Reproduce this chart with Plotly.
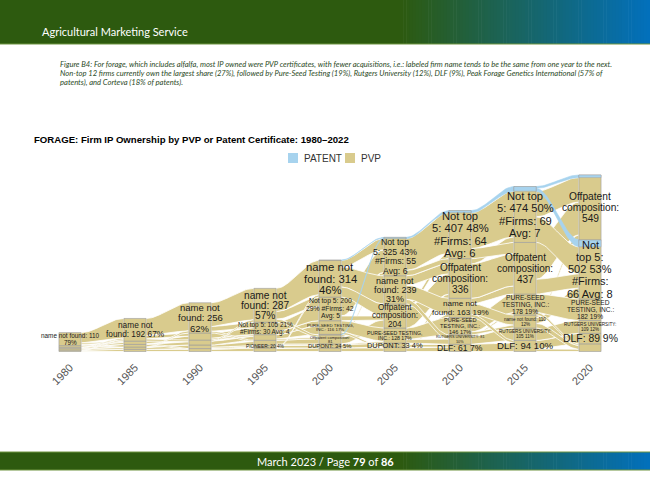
import plotly.graph_objects as go

# ---------------- DATA ----------------
years = [1980, 1985, 1990, 1995, 2000, 2005, 2010, 2015, 2020]
year_labels = ["1980", "1985", "1990", "1995", "2000", "2005", "2010", "2015", "2020"]

# strata, bottom -> top : keys, counts, patent part of count, label text
keys_1980 = ["o1", "o2", "o3", "o4", "nnf"]
vals_1980 = [12, 12, 12, 14, 110]
pats_1980 = [0, 0, 0, 0, 0]
labs_1980 = ["", "", "", "", "name not found: 110<br>79%"]

keys_1985 = ["o1", "o2", "o3", "o4", "nnf"]
vals_1985 = [18, 20, 22, 28, 192]
pats_1985 = [0, 0, 0, 0, 0]
labs_1985 = ["", "", "", "", "name not<br>found: 192 67%"]

keys_1990 = ["o1", "o2", "o3", "o4", "nnf"]
vals_1990 = [25, 30, 42, 60, 256]
pats_1990 = [0, 0, 0, 0, 0]
labs_1990 = ["", "", "", "", "name not<br>found: 256<br>62%"]

keys_1995 = ["o1", "pio", "o2", "o3", "nt5", "nnf"]
vals_1995 = [30, 20, 45, 48, 105, 287]
pats_1995 = [0, 0, 0, 0, 0, 0]
labs_1995 = ["", "PIONEER: 20 4%", "", "", "Not top 5: 105 21%<br>#Firms: 30 Avg: 4",
             "name not<br>found: 287<br>57%"]

keys_2000 = ["o1", "dup", "off", "pure", "nt5", "nnf"]
vals_2000 = [30, 34, 81, 116, 200, 314]
pats_2000 = [0, 0, 6, 0, 0, 3]
labs_2000 = ["", "DUPONT: 34 5%", "Offpatent composition:<br>81",
             "PURE-SEED TESTING,<br>INC.: 116 17%", "Not top 5: 200<br>29% #Firms: 42<br>Avg: 5",
             "name not<br>found: 314<br>46%"]

keys_2005 = ["o1", "dup", "pure", "off", "nnf", "nt5"]
vals_2005 = [38, 33, 128, 204, 239, 325]
pats_2005 = [0, 0, 0, 0, 0, 10]
labs_2005 = ["", "DUPONT: 33 4%", "PURE-SEED TESTING,<br>INC.: 128 17%",
             "Offpatent<br>composition:<br>204", "name not<br>found: 239<br>31%",
             "Not top<br>5: 325 43%<br>#Firms: 55<br>Avg: 6"]

keys_2010 = ["dlf", "rut", "pure", "nnf", "off", "nt5"]
vals_2010 = [61, 81, 146, 163, 336, 407]
pats_2010 = [0, 0, 0, 0, 0, 18]
labs_2010 = ["DLF: 61 7%", "RUTGERS UNIVERSITY: 81<br>10%", "PURE-SEED<br>TESTING, INC.:<br>146 17%",
             "name not<br>found: 163 19%", "Offpatent<br>composition:<br>336",
             "Not top<br>5: 407 48%<br>#Firms: 64<br>Avg: 6"]

keys_2015 = ["dlf", "rut", "nnf", "pure", "off", "nt5"]
vals_2015 = [94, 105, 110, 178, 437, 474]
pats_2015 = [0, 0, 0, 0, 0, 40]
labs_2015 = ["DLF: 94 10%", "RUTGERS UNIVERSITY:<br>105 11%", "name not found: 110<br>12%",
             "PURE-SEED<br>TESTING, INC.:<br>178 19%", "Offpatent<br>composition:<br>437",
             "Not top<br>5: 474 50%<br>#Firms: 69<br>Avg: 7"]

keys_2020 = ["o1", "dlf", "rut", "pure", "nt5", "off"]
vals_2020 = [65, 89, 109, 182, 502, 549]
pats_2020 = [0, 0, 0, 0, 60, 22]
labs_2020 = ["", "DLF: 89 9%", "RUTGERS UNIVERSITY:<br>109 12%", "PURE-SEED<br>TESTING, INC.:<br>182 19%",
             "Not<br>top 5:<br>502 53%<br>#Firms:<br>66 Avg: 8", "Offpatent<br>composition:<br>549"]

# flows between consecutive years: (from stratum, to stratum, relative weight)
pvp_1980_1985 = [("o1", "o1", 1), ("o2", "o2", 1), ("o3", "o3", 1), ("o4", "o4", 1), ("nnf", "nnf", 4),
                 ("nnf", "o4", 0.6), ("nnf", "o2", 0.4), ("o1", "nnf", 0.3), ("o3", "nnf", 0.3)]
pvp_1985_1990 = [("o1", "o1", 1), ("o2", "o2", 1), ("o3", "o3", 1), ("o4", "o4", 1), ("nnf", "nnf", 4),
                 ("nnf", "o4", 0.8), ("nnf", "o3", 0.5), ("o2", "nnf", 0.3), ("o4", "o1", 0.3)]
pvp_1990_1995 = [("o1", "o1", 1), ("o1", "pio", 0.4), ("o2", "pio", 0.6), ("o2", "o2", 1), ("o3", "o3", 1),
                 ("o4", "o3", 0.4), ("o4", "nt5", 1), ("nnf", "nt5", 0.8), ("nnf", "nnf", 4),
                 ("o3", "nnf", 0.3), ("nnf", "o2", 0.3)]
pvp_1995_2000 = [("o1", "o1", 1), ("pio", "dup", 1), ("o2", "dup", 0.4), ("o2", "off", 1), ("o3", "pure", 1),
                 ("o3", "off", 0.3), ("nt5", "pure", 0.6), ("nt5", "nt5", 1.5), ("nnf", "nt5", 1),
                 ("nnf", "nnf", 3), ("nnf", "off", 0.4), ("o1", "nnf", 0.2)]
pvp_2000_2005 = [("o1", "o1", 1), ("dup", "dup", 1), ("off", "off", 1), ("off", "nt5", 0.3),
                 ("pure", "pure", 1.5), ("pure", "o1", 0.3), ("nt5", "nt5", 2), ("nt5", "off", 0.5),
                 ("nnf", "nnf", 3), ("nnf", "off", 1.5), ("nnf", "nt5", 1), ("dup", "pure", 0.2)]
pvp_2005_2010 = [("o1", "dlf", 1), ("o1", "nnf", 0.3), ("dup", "dlf", 0.6), ("dup", "off", 0.4),
                 ("pure", "pure", 2), ("pure", "rut", 0.6), ("off", "off", 2), ("off", "nt5", 0.4),
                 ("nnf", "nnf", 1.5), ("nnf", "rut", 0.5), ("nnf", "off", 1), ("nt5", "nt5", 3),
                 ("nt5", "off", 0.5)]
pvp_2010_2015 = [("dlf", "dlf", 1), ("rut", "rut", 1), ("rut", "pure", 0.2), ("pure", "pure", 1.5),
                 ("pure", "nnf", 0.3), ("nnf", "nnf", 1), ("nnf", "off", 0.5), ("nnf", "dlf", 0.3),
                 ("off", "off", 2), ("off", "nt5", 0.3), ("nt5", "nt5", 2.5), ("nt5", "off", 0.7)]
pvp_2015_2020 = [("dlf", "dlf", 1), ("dlf", "o1", 0.3), ("rut", "rut", 1), ("nnf", "o1", 0.5),
                 ("nnf", "nt5", 0.6), ("nnf", "off", 0.3), ("pure", "pure", 1.5), ("pure", "o1", 0.2),
                 ("off", "off", 2), ("off", "nt5", 0.8), ("nt5", "nt5", 1.5), ("nt5", "off", 1.5)]

pat_2000_2005 = [("nnf", "nt5", 1), ("off", "nt5", 1)]
pat_2005_2010 = [("nt5", "nt5", 1)]
pat_2010_2015 = [("nt5", "nt5", 1)]
pat_2015_2020 = [("nt5", "nt5", 1), ("nt5", "off", 0.6)]

series_names = ["PATENT", "PVP"]

title_text = "FORAGE: Firm IP Ownership by PVP or Patent Certificate: 1980\u20132022"
header_text = "Agricultural Marketing Service"
caption_lines = [
    "Figure B4: For forage, which includes alfalfa, most IP owned were PVP certificates, with fewer acquisitions, i.e.: labeled firm name tends to be the same from one year to the next.",
    "Non-top 12 firms currently own the largest share (27%), followed by Pure-Seed Testing (19%), Rutgers University (12%), DLF (9%), Peak Forage Genetics International (57% of",
    "patents), and Corteva (18% of patents).",
]
footer_text = "March 2023 / Page <b>79</b> of <b>86</b>"

# ---------------- STYLE ----------------
TAN = "#d9cb8d"
BLUE = "#a7d3ee"
BOX_LINE = "#9c9c9c"
LABEL_FONT = "Liberation Sans"
HALF_W = 0.85  # half stratum width in years

label_size = {
    (1980, "nnf"): 6.4, (1985, "nnf"): 8.3, (1990, "nnf"): 9.5,
    (1995, "nnf"): 10.2, (1995, "nt5"): 6.4, (1995, "pio"): 4.8,
    (2000, "nnf"): 11.3, (2000, "nt5"): 6.8, (2000, "pure"): 4.4, (2000, "off"): 4.0, (2000, "dup"): 5.8,
    (2005, "nt5"): 8.7, (2005, "nnf"): 9.0, (2005, "off"): 8.2, (2005, "pure"): 5.2, (2005, "dup"): 7.4,
    (2010, "nt5"): 11.2, (2010, "off"): 10, (2010, "nnf"): 8.1, (2010, "pure"): 5.6, (2010, "rut"): 3.8,
    (2010, "dlf"): 8.6,
    (2015, "nt5"): 11.2, (2015, "off"): 10, (2015, "pure"): 6.6, (2015, "nnf"): 4.6, (2015, "rut"): 4.6,
    (2015, "dlf"): 9.6,
    (2020, "off"): 10.2, (2020, "nt5"): 11, (2020, "pure"): 6.6, (2020, "rut"): 4.6, (2020, "dlf"): 10.4,
}
line_gap = {(1995, "nnf"): 0.98, (2000, "nnf"): 1.05, (2005, "nnf"): 1.0, (2005, "off"): 1.02,
            (2000, "off"): 0.95, (1995, "nt5"): 1.0}

strata = {
    1980: (keys_1980, vals_1980, pats_1980, labs_1980),
    1985: (keys_1985, vals_1985, pats_1985, labs_1985),
    1990: (keys_1990, vals_1990, pats_1990, labs_1990),
    1995: (keys_1995, vals_1995, pats_1995, labs_1995),
    2000: (keys_2000, vals_2000, pats_2000, labs_2000),
    2005: (keys_2005, vals_2005, pats_2005, labs_2005),
    2010: (keys_2010, vals_2010, pats_2010, labs_2010),
    2015: (keys_2015, vals_2015, pats_2015, labs_2015),
    2020: (keys_2020, vals_2020, pats_2020, labs_2020),
}
pvp_flows = [pvp_1980_1985, pvp_1985_1990, pvp_1990_1995, pvp_1995_2000,
             pvp_2000_2005, pvp_2005_2010, pvp_2010_2015, pvp_2015_2020]
pat_flows = {2000: pat_2000_2005, 2005: pat_2005_2010, 2010: pat_2010_2015, 2015: pat_2015_2020}

# ---------------- GEOMETRY (page pixels -> paper) ----------------
W, H = 650, 501
L, R, T, B = 30, 620, 165, 358
PXW = 13.0            # pixels per year
PXU = 0.118           # pixels per count
BASE = 351.5          # pixel row of zero


def PX(p):
    return (p - L) / (R - L)


def PY(p):
    return (B - p) / (B - T)


x_min = years[0] - (70 - L) / PXW
x_max = x_min + (R - L) / PXW
y_min = -(B - BASE) / PXU
y_max = (BASE - T) / PXU

pos = {}
for yr in years:
    ks, vs, ps, _ = strata[yr]
    b = 0
    for k, v, p in zip(ks, vs, ps):
        pos[(yr, k)] = (b, b + v - p, b + v)
        b += v


def seg(yr, k, kind):
    b, m, t = pos[(yr, k)]
    return (b, m) if kind == "pvp" else (m, t)


def allocate(y0, y1, flows, kind):
    res = [[None, None] for _ in flows]
    for k in set(f[0] for f in flows):
        idx = [i for i, f in enumerate(flows) if f[0] == k]
        idx.sort(key=lambda i: pos[(y1, flows[i][1])][0])
        lo, hi = seg(y0, k, kind)
        tot = sum(flows[i][2] for i in idx)
        c = lo
        for i in idx:
            h = (hi - lo) * flows[i][2] / tot
            res[i][0] = (c, c + h)
            c += h
    for k in set(f[1] for f in flows):
        idx = [i for i, f in enumerate(flows) if f[1] == k]
        idx.sort(key=lambda i: pos[(y0, flows[i][0])][0])
        lo, hi = seg(y1, k, kind)
        tot = sum(flows[i][2] for i in idx)
        c = lo
        for i in idx:
            h = (hi - lo) * flows[i][2] / tot
            res[i][1] = (c, c + h)
            c += h
    return res


def ribbon(y0, y1, s, d, n=26):
    xs, xe = y0 + HALF_W, y1 - HALF_W
    ts = [i / (n - 1) for i in range(n)]
    sm = [t * t * (3 - 2 * t) for t in ts]
    xx = [xs + (xe - xs) * t for t in ts]
    top = [s[1] + (d[1] - s[1]) * u for u in sm]
    bot = [s[0] + (d[0] - s[0]) * u for u in sm]
    return xx + xx[::-1] + [xx[0]], top + bot[::-1] + [top[0]]


fig = go.Figure()

for i, flows in enumerate(pvp_flows):
    y0, y1 = years[i], years[i + 1]
    for s, d in allocate(y0, y1, flows, "pvp"):
        xx, yy = ribbon(y0, y1, s, d)
        fig.add_trace(go.Scatter(x=xx, y=yy, mode="lines", fill="toself", fillcolor=TAN,
                                 line=dict(color="white", width=0.8), hoverinfo="skip", showlegend=False))
for y0, flows in pat_flows.items():
    y1 = y0 + 5
    for s, d in allocate(y0, y1, flows, "pat"):
        xx, yy = ribbon(y0, y1, s, d)
        fig.add_trace(go.Scatter(x=xx, y=yy, mode="lines", fill="toself", fillcolor=BLUE,
                                 line=dict(color=BLUE, width=0.6), hoverinfo="skip", showlegend=False))

for yr in years:
    ks, vs, ps, _ = strata[yr]
    x0, x1 = yr - HALF_W, yr + HALF_W
    for k in ks:
        b, m, t = pos[(yr, k)]
        fig.add_trace(go.Scatter(x=[x0, x1, x1, x0, x0], y=[b, b, t, t, b], mode="lines", fill="toself",
                                 fillcolor=TAN, line=dict(color=BOX_LINE, width=0.6),
                                 hoverinfo="skip", showlegend=False))
        if t > m:
            fig.add_trace(go.Scatter(x=[x0, x1, x1, x0, x0], y=[m, m, t, t, m], mode="lines", fill="toself",
                                     fillcolor=BLUE, line=dict(color=BOX_LINE, width=0.4),
                                     hoverinfo="skip", showlegend=False))

annotations = []
for yr in years:
    ks, vs, ps, labs = strata[yr]
    for k, lab in zip(ks, labs):
        if not lab:
            continue
        b, m, t = pos[(yr, k)]
        yc = (b + t) / 2
        size = label_size[(yr, k)]
        gap = line_gap.get((yr, k), 1.1)
        lines = lab.split("<br>")
        n = len(lines)
        for j, line in enumerate(lines):
            annotations.append(dict(x=yr, y=yc, xref="x", yref="y", text=line, showarrow=False,
                                    yshift=((n - 1) / 2 - j) * size * gap, xanchor="center",
                                    yanchor="middle",
                                    font=dict(family=LABEL_FONT, size=size, color="#1a1a1a")))

shapes = []


def band(y0p, y1p):
    n = 80
    g0, g1 = (45, 90, 15), (2, 112, 188)
    xs0 = 400
    step = (W - xs0) / n
    shapes.append(dict(type="rect", xref="paper", yref="paper", x0=PX(0), x1=PX(xs0 + 1),
                       y0=PY(y1p), y1=PY(y0p), fillcolor="rgb(45,90,15)", line=dict(width=0), layer="below"))
    for i in range(n):
        t = (i + 0.5) / n
        c = tuple(int(round(g0[j] + (g1[j] - g0[j]) * t)) for j in range(3))
        shapes.append(dict(type="rect", xref="paper", yref="paper", x0=PX(xs0 + i * step),
                           x1=PX(xs0 + (i + 1) * step + 0.6), y0=PY(y1p), y1=PY(y0p),
                           fillcolor="rgb(%d,%d,%d)" % c, line=dict(width=0), layer="below"))


band(0, 44)
shapes.append(dict(type="line", xref="paper", yref="paper", x0=PX(0), x1=PX(W), y0=PY(44), y1=PY(44),
                   line=dict(color="#6f9440", width=1.2)))
band(452, 470)
for yy in (452, 470):
    shapes.append(dict(type="line", xref="paper", yref="paper", x0=PX(0), x1=PX(W), y0=PY(yy), y1=PY(yy),
                       line=dict(color="#6f9440", width=1)))

leg_x = [288, 345]
for name, col, lx in zip(series_names, [BLUE, TAN], leg_x):
    shapes.append(dict(type="rect", xref="paper", yref="paper", x0=PX(lx), x1=PX(lx + 10),
                       y0=PY(163), y1=PY(153), fillcolor=col, line=dict(width=0)))
    annotations.append(dict(x=PX(lx + 14), y=PY(158), xref="paper", yref="paper", text=name, showarrow=False,
                            xanchor="left", yanchor="middle",
                            font=dict(family="Liberation Sans", size=10, color="#333333")))

annotations.append(dict(x=PX(40), y=PY(31), xref="paper", yref="paper", text=header_text, showarrow=False,
                        xanchor="left", yanchor="middle", font=dict(family="Lato", size=11, color="white")))
for i, line in enumerate(caption_lines):
    annotations.append(dict(x=PX(58), y=PY(64 + 9 * i), xref="paper", yref="paper", text="<i>%s</i>" % line,
                            showarrow=False, xanchor="left", yanchor="middle",
                            font=dict(family="Lato", size=7.6, color="#2b4a26")))
annotations.append(dict(x=PX(32), y=PY(139), xref="paper", yref="paper", text="<b>%s</b>" % title_text,
                        showarrow=False, xanchor="left", yanchor="middle",
                        font=dict(family="Liberation Sans", size=9.6, color="black")))
annotations.append(dict(x=PX(325), y=PY(461), xref="paper", yref="paper", text=footer_text, showarrow=False,
                        xanchor="center", yanchor="middle", font=dict(family="Lato", size=11, color="white")))

fig.update_layout(
    width=W, height=H,
    margin=dict(l=L, r=W - R, t=T, b=H - B, pad=0),
    paper_bgcolor="white", plot_bgcolor="white",
    showlegend=False,
    xaxis=dict(range=[x_min, x_max], tickvals=years, ticktext=year_labels, tickangle=-45,
               showgrid=False, zeroline=False, showline=False, ticks="",
               tickfont=dict(family="Liberation Sans", size=11, color="#555555")),
    yaxis=dict(range=[y_min, y_max], showticklabels=False, showgrid=False, zeroline=False, showline=False),
    shapes=shapes, annotations=annotations,
)

fig.write_html("out.html", config={"displayModeBar": False},
               post_script="document.body.style.margin='0px';document.body.style.overflow='hidden';")
